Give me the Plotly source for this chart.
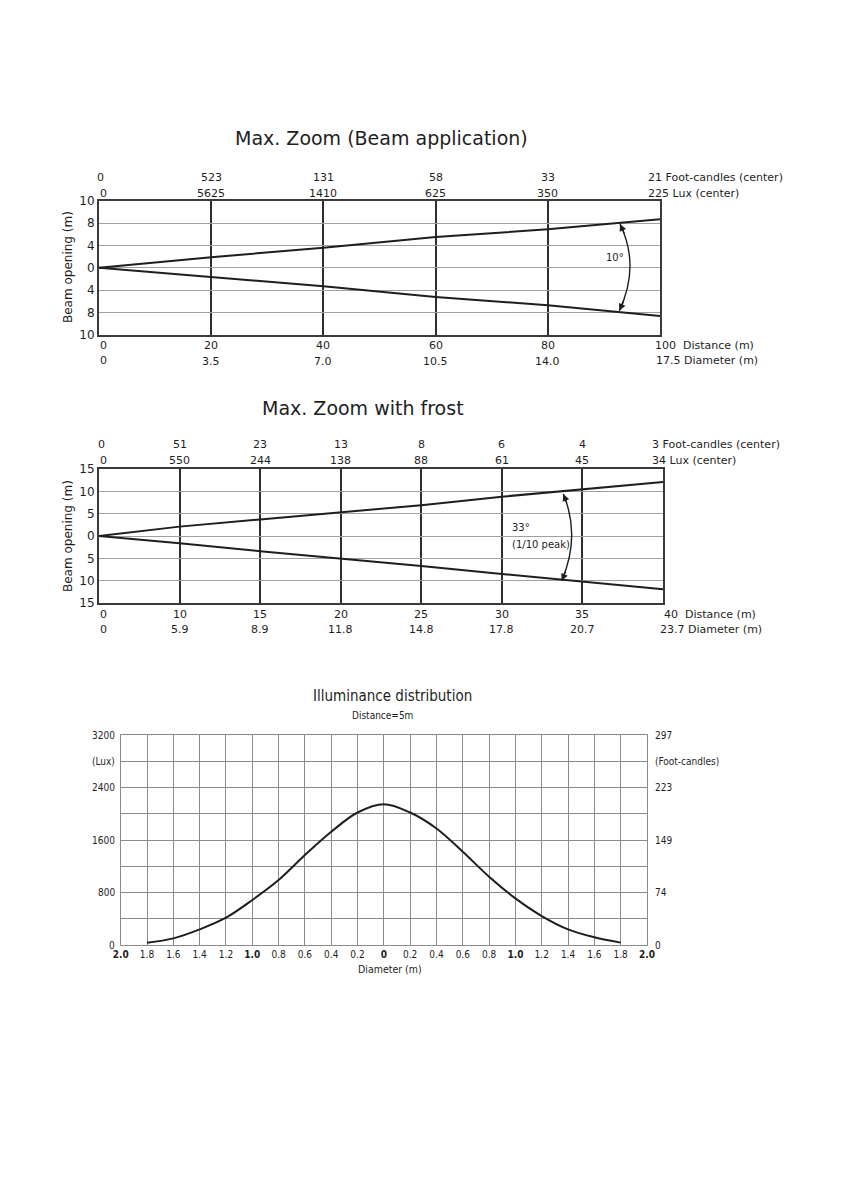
import plotly.graph_objects as go

W, H = 843, 1192


def PX(x):
    return x / W


def PY(y):
    return 1 - y / H


FONT = "DejaVu Sans"
FONT3 = "DejaVu Sans Condensed, DejaVu Sans"
INK = "#1e1e1e"
NB = "\u00a0"

# ---------------- data ----------------
# Chart 1: Max. Zoom (Beam application)
c1_distance = [0, 20, 40, 60, 80, 100]
c1_diameter = ["0", "3.5", "7.0", "10.5", "14.0", "17.5"]
c1_footcandles = ["0", "523", "131", "58", "33", "21"]
c1_lux = ["0", "5625", "1410", "625", "350", "225"]
c1_beam_upper = [0, 1.9, 3.6, 5.5, 6.9, 8.7]
c1_beam_lower = [0, -1.7, -3.3, -5.2, -6.7, -8.6]
c1_ytick_vals = [-12, -8, -4, 0, 4, 8, 12]
c1_ytick_text = ["10", "8", "4", "0", "4", "8", "10"]

# Chart 2: Max. Zoom with frost
c2_distance = ["0", "10", "15", "20", "25", "30", "35", "40"]
c2_diameter = ["0", "5.9", "8.9", "11.8", "14.8", "17.8", "20.7", "23.7"]
c2_footcandles = ["0", "51", "23", "13", "8", "6", "4", "3"]
c2_lux = ["0", "550", "244", "138", "88", "61", "45", "34"]
c2_beam_upper = [0, 2.1, 3.7, 5.3, 6.9, 8.8, 10.4, 12.1]
c2_beam_lower = [0, -1.6, -3.4, -5.0, -6.7, -8.5, -10.2, -11.9]
c2_ytick_vals = [-15, -10, -5, 0, 5, 10, 15]
c2_ytick_text = ["15", "10", "5", "0", "5", "10", "15"]

# Chart 3: Illuminance distribution
c3_diameter = [-1.8, -1.6, -1.4, -1.2, -1.0, -0.8, -0.6, -0.4, -0.2, 0.0,
               0.2, 0.4, 0.6, 0.8, 1.0, 1.2, 1.4, 1.6, 1.8]
c3_lux = [36, 101, 238, 416, 685, 989, 1370, 1725, 2019, 2146,
          2019, 1776, 1421, 1040, 710, 441, 238, 117, 36]
c3_xtick_vals = [-2.0, -1.8, -1.6, -1.4, -1.2, -1.0, -0.8, -0.6, -0.4, -0.2, 0.0,
                 0.2, 0.4, 0.6, 0.8, 1.0, 1.2, 1.4, 1.6, 1.8, 2.0]
c3_xtick_text = ["<b>2.0</b>", "1.8", "1.6", "1.4", "1.2", "<b>1.0</b>", "0.8", "0.6", "0.4", "0.2",
                 "<b>0</b>", "0.2", "0.4", "0.6", "0.8", "<b>1.0</b>", "1.2", "1.4", "1.6", "1.8",
                 "<b>2.0</b>"]
c3_lux_ticks = [0, 800, 1600, 2400, 3200]
c3_fc_ticks = [0, 74, 149, 223, 297]

# ---------------- figure ----------------
fig = go.Figure()

beam_line = dict(color=INK, width=2)
fig.add_trace(go.Scatter(x=c1_distance, y=c1_beam_upper, mode="lines", line=beam_line,
                         xaxis="x", yaxis="y", hoverinfo="skip"))
fig.add_trace(go.Scatter(x=c1_distance, y=c1_beam_lower, mode="lines", line=beam_line,
                         xaxis="x", yaxis="y", hoverinfo="skip"))
fig.add_trace(go.Scatter(x=c2_distance, y=c2_beam_upper, mode="lines", line=beam_line,
                         xaxis="x2", yaxis="y2", hoverinfo="skip"))
fig.add_trace(go.Scatter(x=c2_distance, y=c2_beam_lower, mode="lines", line=beam_line,
                         xaxis="x2", yaxis="y2", hoverinfo="skip"))
fig.add_trace(go.Scatter(x=c3_diameter, y=c3_lux, mode="lines",
                         line=dict(color=INK, width=2, shape="spline", smoothing=1.0),
                         xaxis="x3", yaxis="y3", hoverinfo="skip"))

frame_dark = dict(showline=True, mirror=True, linecolor="#3a3a3a", linewidth=2,
                  zeroline=False, ticks="", automargin=False)
ytickfont = dict(family=FONT, size=12, color=INK)

layout = dict(
    template="none",
    width=W, height=H,
    autosize=False,
    margin=dict(l=0, r=0, t=0, b=0, pad=0),
    paper_bgcolor="white", plot_bgcolor="white",
    showlegend=False,
    xaxis=dict(domain=[PX(99), PX(660)], range=[0, 100], tickvals=c1_distance,
               showticklabels=False, showgrid=True, gridcolor="#2e2e2e", gridwidth=2,
               anchor="y", **frame_dark),
    yaxis=dict(domain=[PY(335), PY(200.7)], range=[-12, 12], tickvals=c1_ytick_vals,
               ticktext=c1_ytick_text, showgrid=True, gridcolor="#a0a0a0", gridwidth=1,
               tickfont=ytickfont, anchor="x", **frame_dark),
    xaxis2=dict(domain=[PX(99), PX(663)], type="category", range=[0, 7],
                showticklabels=False, showgrid=True, gridcolor="#2e2e2e", gridwidth=2,
                anchor="y2", **frame_dark),
    yaxis2=dict(domain=[PY(603), PY(469)], range=[-15, 15], tickvals=c2_ytick_vals,
                ticktext=c2_ytick_text, showgrid=True, gridcolor="#a0a0a0", gridwidth=1,
                tickfont=ytickfont, anchor="x2", **frame_dark),
    xaxis3=dict(domain=[PX(120.7), PX(647)], range=[-2, 2], tickvals=c3_xtick_vals,
                ticktext=c3_xtick_text, showgrid=True, gridcolor="#8c8c8c", gridwidth=1,
                showline=True, mirror=True, linecolor="#8c8c8c", linewidth=1,
                zeroline=False, ticks="", tickfont=dict(family=FONT3, size=10, color=INK),
                anchor="y3", automargin=False),
    yaxis3=dict(domain=[PY(945), PY(735)], range=[0, 3200], dtick=400, tick0=0,
                showticklabels=False, showgrid=True, gridcolor="#8c8c8c", gridwidth=1,
                showline=True, mirror=True, linecolor="#8c8c8c", linewidth=1,
                zeroline=False, ticks="", anchor="x3", automargin=False),
)

ann = []


def text(x, y, t, size=11, family=FONT, xanchor="center", xref="paper", xshift=0,
         textangle=0, yref="paper"):
    ann.append(dict(x=x, y=y, xref=xref, yref=yref, text=t, showarrow=False,
                    xanchor=xanchor, yanchor="middle", xshift=xshift, textangle=textangle,
                    font=dict(family=family, size=size, color=INK)))


# titles
text(PX(381), PY(138), "Max. Zoom (Beam application)", size=19)
text(PX(363), PY(408), "Max. Zoom with frost", size=19)
text(PX(392), PY(696), "Illuminance distribution", size=15, family=FONT3)
text(PX(382), PY(715), "Distance=5m", size=10, family=FONT3)
text(PX(390), PY(969), "Diameter (m)", size=10.5, family=FONT3)

# y-axis titles
text(PX(68), PY(267), "Beam opening (m)", size=12, textangle=-90)
text(PX(68), PY(536), "Beam opening (m)", size=12, textangle=-90)

# chart 1 header / footer rows
n1 = len(c1_distance)
for i, d in enumerate(c1_distance):
    if i == 0:
        text(d, PY(177), c1_footcandles[i], xref="x", xshift=1)
        text(d, PY(193), c1_lux[i], xref="x", xanchor="left", xshift=-1)
        text(d, PY(346), str(d), xref="x", xanchor="left", xshift=-1)
        text(d, PY(360), c1_diameter[i], xref="x", xanchor="left", xshift=-1)
    elif i == n1 - 1:
        text(d, PY(177), c1_footcandles[i] + " Foot-candles (center)", xref="x",
             xanchor="left", xshift=-14)
        text(d, PY(193), c1_lux[i] + " Lux (center)", xref="x", xanchor="left", xshift=-14)
        text(d, PY(346), str(d) + NB + " Distance (m)", xref="x", xanchor="left", xshift=-7)
        text(d, PY(360), c1_diameter[i] + " Diameter (m)", xref="x", xanchor="left", xshift=-6)
    else:
        text(d, PY(177), c1_footcandles[i], xref="x")
        text(d, PY(193), c1_lux[i], xref="x")
        text(d, PY(345), str(d), xref="x")
        text(d, PY(361), c1_diameter[i], xref="x")

# chart 2 header / footer rows
n2 = len(c2_distance)
for i, d in enumerate(c2_distance):
    if i == 0:
        text(i, PY(444), c2_footcandles[i], xref="x2", xshift=2)
        text(i, PY(460), c2_lux[i], xref="x2", xanchor="left", xshift=-1)
        text(i, PY(614), d, xref="x2", xanchor="left", xshift=-1)
        text(i, PY(629), c2_diameter[i], xref="x2", xanchor="left", xshift=-1)
    elif i == n2 - 1:
        text(i, PY(444), c2_footcandles[i] + " Foot-candles (center)", xref="x2",
             xanchor="left", xshift=-13)
        text(i, PY(460), c2_lux[i] + " Lux (center)", xref="x2", xanchor="left", xshift=-13)
        text(i, PY(614), d + NB + " Distance (m)", xref="x2", xanchor="left", xshift=-1)
        text(i, PY(629), c2_diameter[i] + " Diameter (m)", xref="x2", xanchor="left", xshift=-5)
    else:
        text(i, PY(444), c2_footcandles[i], xref="x2")
        text(i, PY(460), c2_lux[i], xref="x2")
        text(i, PY(614), d, xref="x2")
        text(i, PY(629), c2_diameter[i], xref="x2")

# chart 3 side labels
for v in c3_lux_ticks:
    text(PX(116.5), v, str(v), size=10, family=FONT3, xanchor="right", yref="y3")
text(PX(116.5), 2800, "(Lux)", size=10, family=FONT3, xanchor="right", yref="y3")
for v, fc in zip(c3_lux_ticks, c3_fc_ticks):
    text(PX(653), v, str(fc), size=10, family=FONT3, xanchor="left", yref="y3")
text(PX(653), 2800, "(Foot-candles)", size=10, family=FONT3, xanchor="left", yref="y3")

# angle annotations
text(PX(626), PY(258), "10°", size=10, xanchor="right")
text(PX(510), PY(527), "33°", size=10, xanchor="left")
text(PX(510), PY(544), "(1/10 peak)", size=10, xanchor="left")


def arrow(x, y, ax, ay):
    ann.append(dict(x=PX(x), y=PY(y), xref="paper", yref="paper", text="", showarrow=True,
                    ax=ax, ay=ay, arrowhead=2, arrowsize=1, arrowwidth=1.4,
                    arrowcolor=INK, standoff=0))


arrow(620, 224, 5, 11)
arrow(619.3, 310.7, 5, -11)
arrow(563.3, 494, 4, 10)
arrow(561.7, 580.7, 4.5, -10.5)


def arc(p0, c, p2):
    return dict(type="path", xref="paper", yref="paper",
                path=f"M {PX(p0[0])},{PY(p0[1])} Q {PX(c[0])},{PY(c[1])} {PX(p2[0])},{PY(p2[1])}",
                line=dict(color=INK, width=1.4))


shapes = [
    arc((620, 224), (640.35, 266.05), (619.3, 310.7)),
    arc((563.3, 494), (580.9, 536.05), (561.7, 580.7)),
]

layout["annotations"] = ann
layout["shapes"] = shapes
fig.update_layout(**layout)

fig.write_html("out.html", config={"responsive": False, "displayModeBar": False},
               post_script="document.body.style.margin='0px';")
